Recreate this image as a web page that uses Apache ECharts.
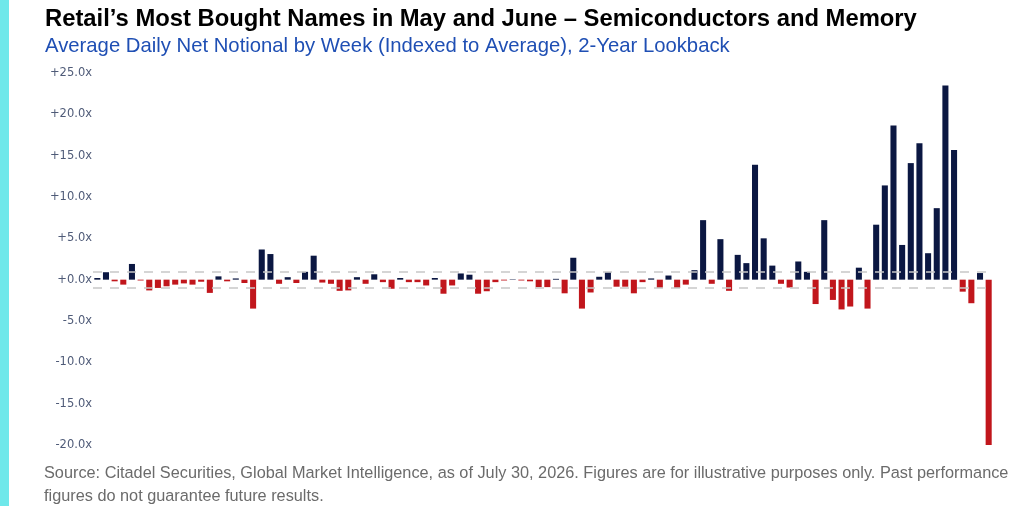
<!DOCTYPE html>
<html>
	<head>
		<title>Retail Most Bought Names</title>
		<script src="https://cdn.jsdelivr.net/npm/echarts@6/dist/echarts.min.js"></script>
	</head>
	<body style="margin:0;padding:0;background:#fff">
		<div id="chart" style="width: 1024px;height:506px;border:none"></div>
	</body>
	<script type="text/javascript">
		// weekly net notional, indexed to average (x), oldest -> newest
		var values = [
			0.2, 0.9, -0.2, -0.6, 1.9, -0.1, -1.3, -1.0, -0.8, -0.6,
			-0.45, -0.6, -0.25, -1.6, 0.4, -0.2, 0.15, -0.4, -3.5, 3.65,
			3.1, -0.5, 0.3, -0.4, 0.95, 2.9, -0.35, -0.5, -1.35, -1.3,
			0.3, -0.5, 0.65, -0.3, -1.1, 0.2, -0.3, -0.3, -0.7, 0.2,
			-1.7, -0.7, 0.75, 0.6, -1.7, -1.4, -0.3, -0.1, 0.05, -0.1,
			-0.2, -0.9, -0.9, 0.1, -1.65, 2.65, -3.5, -1.55, 0.35, 0.9,
			-0.85, -0.85, -1.65, -0.3, 0.15, -1.0, 0.5, -1.0, -0.6, 1.15,
			7.2, -0.5, 4.9, -1.35, 3.0, 2.0, 13.9, 5.0, 1.7, -0.5,
			-0.95, 2.2, 0.95, -2.95, 7.2, -2.45, -3.6, -3.25, 1.45, -3.5,
			6.65, 11.4, 18.65, 4.2, 14.1, 16.5, 3.2, 8.65, 23.5, 15.7,
			-1.45, -2.85, 0.8, -20.0
		];
		var weeks = values.map(function (v, i) { return "W" + (i + 1); });
		var bandLines = [1, -1];
		var yTicks = { min: -20, max: 25, interval: 5 };

		var title = "Retail\u2019s Most Bought Names in May and June \u2013 Semiconductors and Memory";
		var subtitle = "Average Daily Net Notional by Week (Indexed to Average), 2-Year Lookback";
		var source = "Source: Citadel Securities, Global Market Intelligence, as of July 30, 2026. Figures are for illustrative purposes only. Past performance\nfigures do not guarantee future results.";

		var navy = "#0b1742";
		var red = "#c1161c";

		var myChart = echarts.init(document.getElementById('chart'));

		var option = {
			backgroundColor: "#ffffff",
			animation: false,
			title: [{
				text: title,
				left: 40,
				top: -6,
				textStyle: {
					fontFamily: "Liberation Sans",
					fontWeight: "bold",
					fontSize: 23.8,
					color: "#000"
				}
			}, {
				text: subtitle,
				left: 40,
				top: 24,
				textStyle: {
					fontFamily: "Liberation Sans",
					fontWeight: "normal",
					fontSize: 20.3,
					color: "#1f4fb4"
				}
			}],
			graphic: [{
				type: "rect",
				left: 0,
				top: 0,
				shape: { width: 9, height: 506 },
				style: { fill: "#6fe8ea" }
			}, {
				type: "text",
				left: 44,
				top: 459,
				style: {
					text: source,
					font: "16.3px 'Liberation Sans'",
					fill: "#6b6b6b",
					lineHeight: 23
				}
			}],
			grid: {
				left: 93,
				right: 31,
				top: 73,
				bottom: 61
			},
			xAxis: {
				type: "category",
				data: weeks,
				axisLine: { show: false },
				axisTick: { show: false },
				axisLabel: { show: false },
				splitLine: { show: false }
			},
			yAxis: {
				type: "value",
				min: yTicks.min,
				max: yTicks.max,
				interval: yTicks.interval,
				axisLine: { show: false },
				axisTick: { show: false },
				splitLine: { show: false },
				axisLabel: {
					margin: 1,
					fontFamily: "DejaVu Sans",
					fontSize: 11.5,
					color: "#4f5b78",
					formatter: function (v) {
						return (v >= 0 ? "+" : "") + v.toFixed(1) + "x";
					}
				}
			},
			series: [{
				type: "bar",
				data: values,
				barCategoryGap: "30%",
				itemStyle: {
					color: function (p) { return p.value >= 0 ? navy : red; }
				},
				markLine: {
					silent: true,
					symbol: ["none", "none"],
					label: { show: false },
					lineStyle: {
						color: "#c8c8c8",
						type: [9, 8],
						width: 1.5
					},
					data: bandLines.map(function (v) { return { yAxis: v }; })
				}
			}]
		};
		myChart.setOption(option);
	</script>
</html>
